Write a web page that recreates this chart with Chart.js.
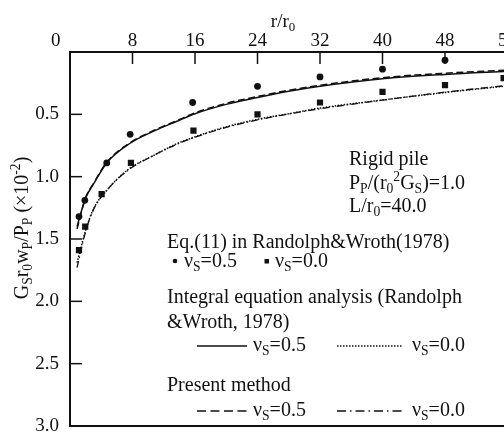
<!DOCTYPE html>
<html>
<head>
<meta charset="utf-8">
<script src="https://cdn.jsdelivr.net/npm/chart.js@4"></script>
<style>
  html, body { margin: 0; padding: 0; background: #fff; overflow: hidden; }
  #wrap { width: 504px; height: 435px; overflow: hidden; }
</style>
</head>
<body>
<div id="wrap"><canvas id="c" width="520" height="435"></canvas></div>
<script>
// x tick values (r/r0) and y range (settlement, x10^-2)
const xTicks = [0, 8, 16, 24, 32, 40, 48, 56];
const yTicks = [0, 0.5, 1.0, 1.5, 2.0, 2.5, 3.0];

// curves: integral equation analysis and present method
const rCurve = [0.9, 2, 3, 4.7, 7.5, 10.7, 13.7, 16, 20, 24, 28, 32, 40, 48, 56];
const intNu05 = [1.40, 1.17, 1.06, 0.89, 0.74, 0.635, 0.555, 0.495, 0.42, 0.365, 0.315, 0.275, 0.215, 0.18, 0.155];
const presNu05 = [1.42, 1.17, 1.055, 0.885, 0.735, 0.63, 0.55, 0.488, 0.412, 0.357, 0.307, 0.267, 0.206, 0.17, 0.145];
const intNu00 = [1.69, 1.43, 1.26, 1.11, 0.94, 0.83, 0.735, 0.68, 0.60, 0.54, 0.495, 0.45, 0.385, 0.325, 0.272];
const presNu00 = [1.73, 1.44, 1.265, 1.11, 0.945, 0.83, 0.74, 0.684, 0.605, 0.545, 0.497, 0.455, 0.386, 0.322, 0.268];

// Eq.(11) in Randolph & Wroth (1978)
const rEq05 = [1.15, 1.9, 4.7, 7.7, 15.7, 24, 32, 40, 48];
const eqNu05 = [1.32, 1.19, 0.89, 0.66, 0.405, 0.275, 0.2, 0.138, 0.066];
const rEq00 = [1.15, 1.95, 4.05, 7.8, 15.8, 24, 32, 40, 48, 55.5];
const eqNu00 = [1.59, 1.40, 1.14, 0.89, 0.63, 0.50, 0.405, 0.32, 0.266, 0.21];

const serif = '"Liberation Serif", "Times New Roman", serif';
const pts = (xs, ys) => xs.map((x, i) => ({ x: x, y: ys[i] }));

function rich(ctx, x, y, parts, size) {
  let cx = x;
  parts.forEach(p => {
    const t = typeof p === 'string' ? p : p[0];
    const m = typeof p === 'string' ? 'n' : p[1];
    const fs = m === 'n' ? size : size * 0.68;
    const dy = m === 'sub' ? size * 0.22 : (m === 'sup' ? -size * 0.38 : 0);
    ctx.font = fs + 'px ' + serif;
    ctx.fillText(t, cx, y + dy);
    cx += ctx.measureText(t).width;
  });
  return cx;
}

function measureRich(ctx, parts, size) {
  let w = 0;
  parts.forEach(p => {
    const t = typeof p === 'string' ? p : p[0];
    const m = typeof p === 'string' ? 'n' : p[1];
    ctx.font = (m === 'n' ? size : size * 0.68) + 'px ' + serif;
    w += ctx.measureText(t).width;
  });
  return w;
}

const nu = (v) => ['\u03BD', ['S', 'sub'], '=' + v];

const decor = {
  id: 'decor',
  afterDraw(chart) {
    const ctx = chart.ctx;
    const a = chart.chartArea;
    const xs = chart.scales.x, ys = chart.scales.y;
    ctx.save();
    ctx.strokeStyle = '#111';
    ctx.fillStyle = '#111';
    ctx.lineWidth = 2;
    // frame: top, left, bottom
    ctx.beginPath();
    ctx.moveTo(a.right, a.top); ctx.lineTo(a.left, a.top);
    ctx.lineTo(a.left, a.bottom); ctx.lineTo(a.right, a.bottom);
    ctx.stroke();
    // inward ticks
    ctx.lineWidth = 1.5;
    xs.ticks.forEach(t => {
      if (t.value <= 0) return;
      const px = xs.getPixelForValue(t.value);
      ctx.beginPath(); ctx.moveTo(px, a.top); ctx.lineTo(px, a.top + 12); ctx.stroke();
    });
    ys.ticks.forEach(t => {
      if (t.value <= 0 || t.value >= 3) return;
      const py = ys.getPixelForValue(t.value);
      ctx.beginPath(); ctx.moveTo(a.left, py); ctx.lineTo(a.left + 12, py); ctx.stroke();
    });

    ctx.textBaseline = 'alphabetic';
    ctx.textAlign = 'left';
    const fs = 20;
    // x title
    const xt = ['r/r', ['0', 'sub']];
    rich(ctx, 283 - measureRich(ctx, xt, 19) / 2, 27, xt, 19);
    // y title
    const yt = ['G', ['S', 'sub'], 'r', ['0', 'sub'], 'w', ['P', 'sub'], '/P', ['P', 'sub'], ' (\u00D710', ['-2', 'sup'], ')'];
    ctx.save();
    ctx.translate(28, 228);
    ctx.rotate(-Math.PI / 2);
    rich(ctx, -measureRich(ctx, yt, 20) / 2, 0, yt, 20);
    ctx.restore();

    // parameters block
    rich(ctx, 349, 165, ['Rigid pile'], fs);
    rich(ctx, 349, 189, ['P', ['P', 'sub'], '/(r', ['0', 'sub'], ['2', 'sup'], 'G', ['S', 'sub'], ')=1.0'], fs);
    rich(ctx, 349, 212, ['L/r', ['0', 'sub'], '=40.0'], fs);

    // legend
    const lx = 167;
    rich(ctx, lx, 248, ['Eq.(11) in Randolph&Wroth(1978)'], fs);
    ctx.beginPath(); ctx.arc(175, 261, 2.3, 0, Math.PI * 2); ctx.fill();
    rich(ctx, 184, 267, nu('0.5'), fs);
    ctx.fillRect(264.5, 259, 4.5, 4.5);
    rich(ctx, 275, 267, nu('0.0'), fs);
    rich(ctx, lx, 303, ['Integral equation analysis (Randolph'], fs);
    rich(ctx, lx, 328, ['&Wroth, 1978)'], fs);

    const seg = (x1, x2, y, dash) => {
      ctx.save();
      ctx.lineWidth = 1.3;
      ctx.setLineDash(dash);
      ctx.beginPath(); ctx.moveTo(x1, y); ctx.lineTo(x2, y); ctx.stroke();
      ctx.restore();
    };
    seg(197, 247, 346, []);
    rich(ctx, 253, 351, nu('0.5'), fs);
    seg(337, 403, 346, [1.5, 1.5]);
    rich(ctx, 412, 351, nu('0.0'), fs);
    rich(ctx, lx, 391, ['Present method'], fs);
    seg(197, 247, 411, [9, 4.5]);
    rich(ctx, 253, 416, nu('0.5'), fs);
    seg(337, 403, 411, [9, 4, 1.5, 4]);
    rich(ctx, 412, 416, nu('0.0'), fs);
    ctx.restore();
  }
};

const lineDs = (data, dash, w) => ({
  type: 'line',
  data: pts(rCurve, data),
  borderColor: '#111',
  borderWidth: w,
  borderDash: dash,
  pointRadius: 0,
  cubicInterpolationMode: 'monotone',
  fill: false
});

new Chart(document.getElementById('c'), {
  type: 'scatter',
  data: {
    datasets: [
      lineDs(intNu05, [], 1.5),
      lineDs(presNu05, [7, 3.5], 1.5),
      lineDs(intNu00, [1.5, 1.5], 1.5),
      lineDs(presNu00, [7, 3, 1.5, 3], 1.3),
      {
        data: pts(rEq05, eqNu05),
        pointStyle: 'circle', pointRadius: 3.4,
        backgroundColor: '#111', borderColor: '#111', borderWidth: 0
      },
      {
        data: pts(rEq00, eqNu00),
        pointStyle: 'rect', pointRadius: 4.4,
        backgroundColor: '#111', borderColor: '#111', borderWidth: 0
      }
    ]
  },
  options: {
    responsive: false,
    animation: false,
    events: [],
    layout: { padding: { left: 0, top: 0, right: 12.5, bottom: 9 } },
    plugins: { legend: { display: false }, tooltip: { enabled: false } },
    scales: {
      x: {
        type: 'linear',
        position: 'top',
        min: 0, max: 56,
        afterBuildTicks: s => { s.ticks = xTicks.map(v => ({ value: v })); },
        afterFit: s => { s.height = 52; s.paddingLeft = 0; s.paddingRight = 0; },
        grid: { display: false, drawTicks: false },
        border: { display: false },
        ticks: {
          padding: 0,
          color: '#111',
          maxRotation: 0,
          autoSkip: false,
          font: { family: serif, size: 19 },
          callback: v => v === 0 ? '0      ' : String(v)
        }
      },
      y: {
        type: 'linear',
        reverse: true,
        min: 0, max: 3,
        afterBuildTicks: s => { s.ticks = yTicks.map(v => ({ value: v })); },
        afterFit: s => { s.width = 70; s.paddingTop = 0; s.paddingBottom = 0; },
        grid: { display: false, drawTicks: false },
        border: { display: false },
        ticks: {
          padding: 11,
          color: '#111',
          autoSkip: false,
          font: { family: serif, size: 19 },
          callback: v => v === 0 ? '' : v.toFixed(1)
        }
      }
    }
  },
  plugins: [decor]
});
</script>
</body>
</html>
